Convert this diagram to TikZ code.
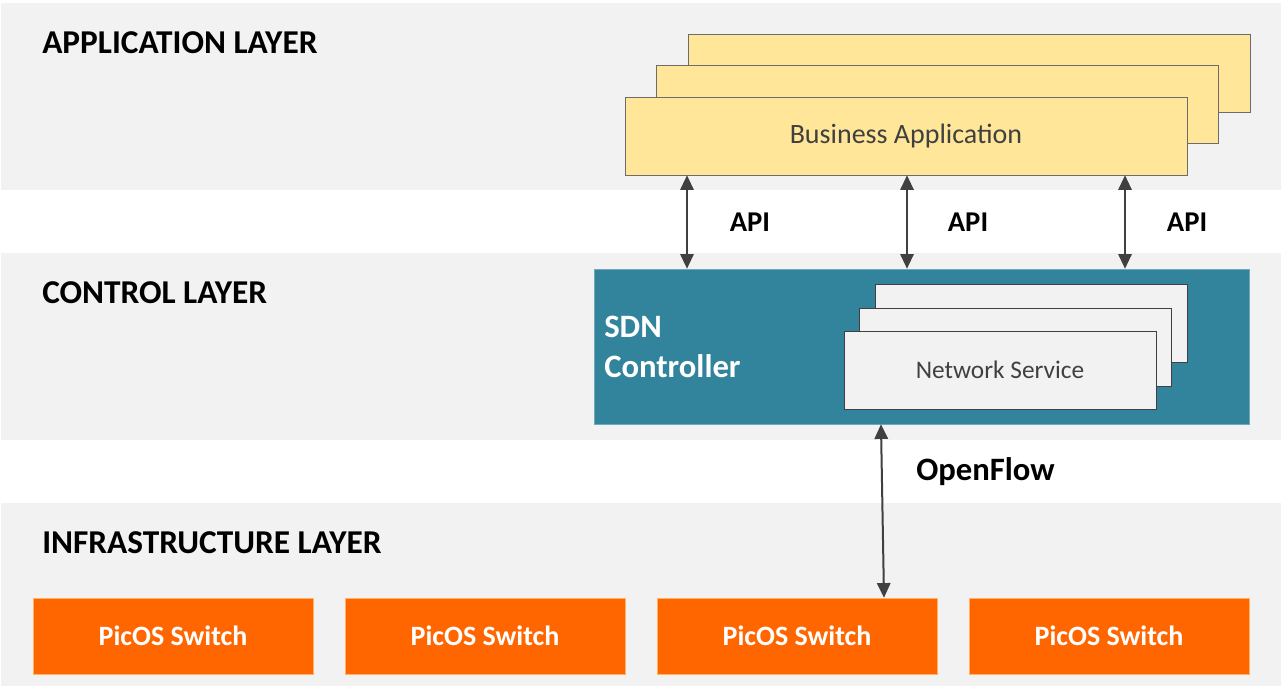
\documentclass[tikz,border=0pt]{standalone}
\usepackage{fontspec}
\setmainfont{Carlito}
\usetikzlibrary{arrows.meta, positioning}

\definecolor{bandgray}{HTML}{F2F2F2}
\definecolor{appyellow}{HTML}{FFE699}
\definecolor{ctrlteal}{HTML}{31849B}
\definecolor{switchorange}{HTML}{FF6600}
\definecolor{darkline}{HTML}{404040}

\begin{document}
\begin{tikzpicture}[
		x=0.75pt, y=-0.75pt,
		>={Triangle[length=11pt,width=10pt]},
		band/.style={fill=bandgray, draw=none},
		layer/.style={anchor=west, inner sep=0pt, font=\fontsize{25}{30}\selectfont\bfseries},
		appbox/.style={draw=gray!85!black, fill=appyellow, minimum width=421.5pt, minimum height=58.5pt, inner sep=0pt, text=darkline, font=\fontsize{21}{25}\selectfont},
		servicebox/.style={draw=darkline, fill=bandgray, minimum width=234pt, minimum height=58.5pt, inner sep=0pt, text=darkline, font=\fontsize{19}{23}\selectfont},
		switchbox/.style={fill=switchorange, draw=orange!60, minimum width=210pt, minimum height=57pt, inner sep=0pt, text=white, font=\fontsize{21}{25}\selectfont\bfseries},
		link/.style={<->, draw=darkline, line width=1.5pt},
		linklabel/.style={font=\fontsize{21.5}{26}\selectfont\bfseries}
		]
		
		\useasboundingbox (0,0) rectangle (1281,688);
		
		% ==========================================
		% LAYER BANDS
		% ==========================================
		\fill[band] (1,3) rectangle (1281,190);
		\fill[band] (1,253) rectangle (1281,440);
		\fill[band] (1,503) rectangle (1281,686);
		
		\node[layer] (applayer) at (42,43) {APPLICATION LAYER};
		\node[layer] (ctrllayer) at (42,293) {CONTROL LAYER};
		\node[layer] (infralayer) at (42,543) {INFRASTRUCTURE LAYER};
		
		% ==========================================
		% BUSINESS APPLICATIONS
		% ==========================================
		\node[appbox] (app3) at (969,73.5) {};
		\node[appbox] (app2) at (937,104.5) {};
		\node[appbox] (app1) at (906,136) {Business Application};
		
		% ==========================================
		% SDN CONTROLLER
		% ==========================================
		\node[fill=ctrlteal, draw=ctrlteal!70, minimum width=491.25pt, minimum height=116.25pt, inner sep=0pt] (ctrl) at (921.5,346.5) {};
		\node[anchor=west, align=left, inner sep=0pt, text=white, font=\fontsize{24.5}{30}\selectfont\bfseries] (ctrltext) at (604,347) {SDN\\Controller};
		
		\node[servicebox] (svc3) at (1031,323) {};
		\node[servicebox] (svc2) at (1015,347) {};
		\node[servicebox] (svc1) at (1000,370) {Network Service};
		
		% ==========================================
		% SWITCHES
		% ==========================================
		\node[switchbox] (sw1) at (173,636) {PicOS Switch};
		\node[switchbox] (sw2) at (485,636) {PicOS Switch};
		\node[switchbox] (sw3) at (797,636) {PicOS Switch};
		\node[switchbox] (sw4) at (1109,636) {PicOS Switch};
		
		% ==========================================
		% INTERFACES
		% ==========================================
		\draw[link] ([xshift=-164.25pt]app1.south) -- ([xshift=-164.25pt]app1.south |- ctrl.north);
		\draw[link] ([xshift=0.75pt]app1.south) -- ([xshift=0.75pt]app1.south |- ctrl.north);
		\draw[link] ([xshift=164.25pt]app1.south) -- ([xshift=164.25pt]app1.south |- ctrl.north);
		
		\node[linklabel] (api1) at (750,222) {API};
		\node[linklabel] (api2) at (968,222) {API};
		\node[linklabel] (api3) at (1187,222) {API};
		
		\draw[link] ([xshift=-30.4pt]ctrl.south) -- ([xshift=65.25pt]sw3.north);
		\node[linklabel, anchor=west, inner sep=0pt, font=\fontsize{24.5}{29}\selectfont\bfseries] (openflow) at (916,472) {OpenFlow};
		
	\end{tikzpicture}
\end{document}
